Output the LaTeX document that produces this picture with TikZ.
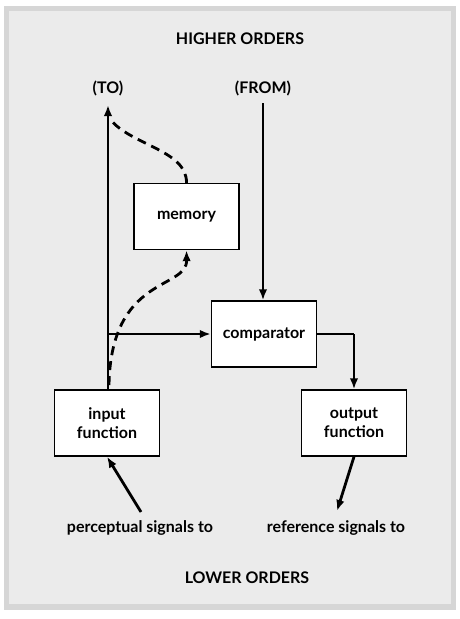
\documentclass[tikz,border=0pt]{standalone}
\usepackage{fontspec}
\setmainfont{Lato}
\usetikzlibrary{arrows.meta}
\definecolor{panel}{HTML}{EBEBEB}
\definecolor{frame}{HTML}{D6D6D6}
\begin{document}
\begin{tikzpicture}[x=1pt,y=-1pt,
  box/.style={draw=black,line width=1.4pt,fill=white,minimum width=105pt,minimum height=66pt,inner sep=0pt,align=center,font=\bfseries\fontsize{16}{19}\selectfont},
  lbl/.style={inner sep=0pt,font=\bfseries\fontsize{16}{18}\selectfont},
  flow/.style={line width=2.8pt,-{Latex[length=11pt,width=8.5pt]}},
  dashline/.style={line width=2.8pt,dash pattern=on 9pt off 6pt}]
\useasboundingbox (0,0) rectangle (460,619);
\fill[white] (0,0) rectangle (460,619);
\fill[frame] (4,6) rectangle (456,610);
\fill[panel] (9,11) rectangle (451,604);
% text
\node[lbl] (hi) at (240,39) {HIGHER ORDERS};
\node[lbl] (to) at (108,88) {(TO)};
\node[lbl] (from) at (263,88) {(FROM)};
\node[lbl] (perc) at (140,528) {perceptual signals to};
\node[lbl] (ref) at (336,528) {reference signals to};
\node[lbl] (lo) at (247,578) {LOWER ORDERS};
% boxes
\node[box] (mem) at (186.5,216.5) {memory};
\node[box] (comp) at (264,334) {comparator};
\node[box] (in) at (107,423) {input\\function};
\node[box] (out) at (354,423) {output\\function};
% coordinates
\coordinate (totip) at (108,105);
\coordinate (fromtop) at (263,103);
\coordinate (branch) at (108,334);
\coordinate (turn) at (354,334);
\coordinate (percend) at (141,512);
\coordinate (refend) at (337,511);
\coordinate (dstart) at (109,385);
\coordinate (dend) at (110,119);
% connectors
\draw[flow] (in.north -| totip) -- (totip);
\draw[flow] (fromtop) -- (comp.north -| fromtop);
\draw[flow] (branch) -- (comp.west);
\draw[line width=2.8pt] (comp.east) -- (turn);
\draw[flow] (turn) -- (out.north);
\draw[flow] (out.south) -- (refend);
\draw[flow] (percend) -- (in.south);
\draw[dashline] (mem.north) .. controls (187,150) and (130,145) .. (dend);
\draw[dashline,-{Latex[length=11pt,width=8.5pt]}] (dstart) .. controls (111,275) and (187,290) .. (mem.south);
\end{tikzpicture}
\end{document}
